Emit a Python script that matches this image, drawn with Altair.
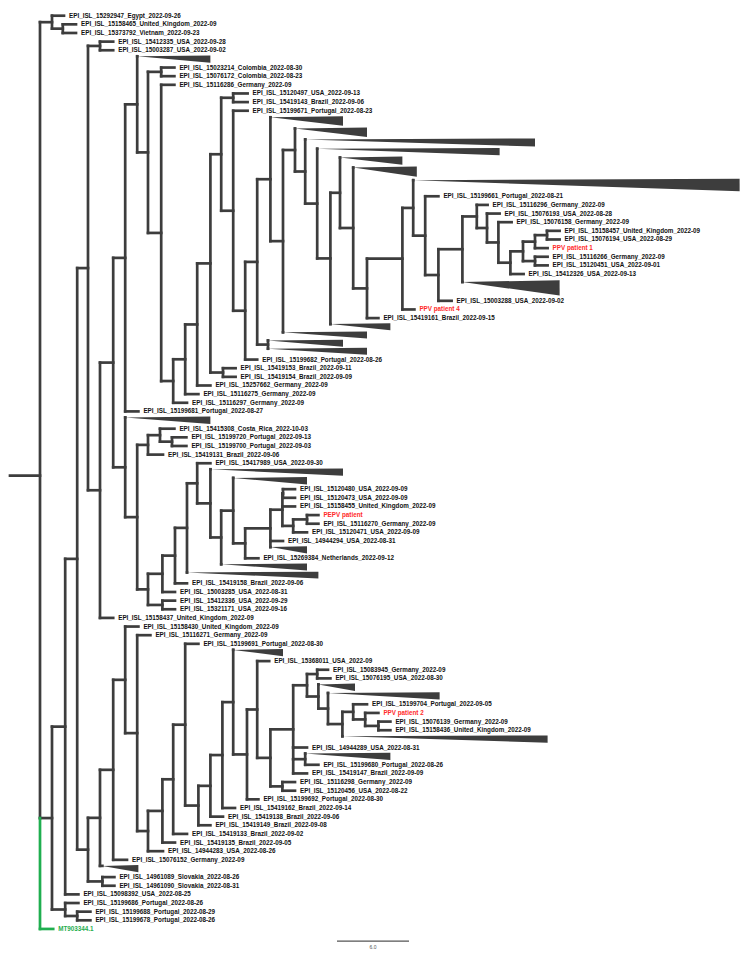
import altair as alt
import pandas as pd

# ---------------- tree data: (node, parent, distance from root) ----------------
BACKBONE = [
    ("root", None, 0.0),
    ("nE", "root", 1.0),
    ("nX", "root", 1.0),
    ("MT903344.1", "root", 1.1),
    ("EPI_ISL_15292947_Egypt_2022-09-26", "nE", 2.0),
    ("nUV", "nE", 1.9),
    ("EPI_ISL_15158465_United_Kingdom_2022-09", "nUV", 3.0),
    ("EPI_ISL_15373792_Vietnam_2022-09-23", "nUV", 3.0),
    ("n65", "nX", 2.1),
    ("nP", "nX", 2.1),
    ("EPI_ISL_15199686_Portugal_2022-08-26", "nP", 3.2),
    ("nP2", "nP", 3.1),
    ("EPI_ISL_15199688_Portugal_2022-08-29", "nP2", 4.2),
    ("EPI_ISL_15199678_Portugal_2022-08-26", "nP2", 4.2),
    ("n77", "n65", 3.1),
    ("EPI_ISL_15098392_USA_2022-08-25", "n65", 3.2),
    ("n88", "n77", 4.0),
    ("n88b", "n77", 4.0),
]

UPPER = [
    ("n100a", "n88", 5.0),
    ("n100", "n88", 5.0),
    ("EPI_ISL_15412335_USA_2022-09-28", "n100a", 6.1),
    ("EPI_ISL_15003287_USA_2022-09-02", "n100a", 6.1),
    ("n113", "n100", 6.1),
    ("EPI_ISL_15158437_United_Kingdom_2022-09", "n100", 6.1),
    ("n125", "n113", 7.1),
    ("n125b", "n113", 7.1),
    ("n137", "n125", 8.1),
    ("EPI_ISL_15199681_Portugal_2022-08-27", "n125", 8.2),
    ("t0", "n137", 8.1),
    ("n148", "n137", 9.0),
    ("n161a", "n148", 10.1),
    ("n161b", "n148", 10.1),
    ("EPI_ISL_15023214_Colombia_2022-08-30", "n161a", 11.2),
    ("EPI_ISL_15076172_Colombia_2022-08-23", "n161a", 11.2),
    ("EPI_ISL_15116286_Germany_2022-09", "n161b", 11.2),
    ("n173", "n161b", 11.1),
    ("n185", "n173", 12.1),
    ("EPI_ISL_15116297_Germany_2022-09", "n173", 12.25),
    ("n197", "n185", 13.1),
    ("EPI_ISL_15116275_Germany_2022-09", "n185", 13.2),
    ("n209", "n197", 14.2),
    ("EPI_ISL_15257662_Germany_2022-09", "n197", 14.2),
    ("n221", "n209", 15.1),
    ("n223", "n209", 15.25),
    ("EPI_ISL_15419153_Brazil_2022-09-11", "n223", 16.3),
    ("EPI_ISL_15419154_Brazil_2022-09-09", "n223", 16.3),
    ("n233a", "n221", 16.1),
    ("n233", "n221", 16.1),
    ("EPI_ISL_15120497_USA_2022-09-13", "n233a", 17.3),
    ("EPI_ISL_15419143_Brazil_2022-09-06", "n233a", 17.3),
    ("EPI_ISL_15199671_Portugal_2022-08-23", "n233", 17.3),
    ("n245", "n233", 17.1),
    ("n257", "n245", 18.1),
    ("EPI_ISL_15199682_Portugal_2022-08-26", "n245", 18.1),
    ("n270", "n257", 19.2),
    ("n268", "n257", 19.0),
]

STAIRCASE = [
    ("t1", "n270", 19.2),
    ("n283", "n270", 20.25),
    ("n295", "n283", 21.25),
    ("tb", "n283", 20.25),
    ("t2", "n295", 21.25),
    ("n305", "n295", 22.1),
    ("t3", "n305", 22.1),
    ("n317", "n305", 23.1),
    ("t4", "n317", 23.1),
    ("n330", "n317", 24.2),
    ("n340", "n330", 25.0),
    ("tc", "n330", 24.2),
    ("t5", "n340", 25.0),
    ("n353", "n340", 26.1),
    ("t6", "n353", 26.1),
    ("n367", "n353", 27.25),
    ("n402", "n367", 30.2),
    ("EPI_ISL_15419161_Brazil_2022-09-15", "n367", 28.2),
    ("n413", "n402", 31.1),
    ("PPV patient 4", "n402", 31.2),
    ("tbig", "n413", 31.1),
    ("n425", "n413", 32.1),
    ("EPI_ISL_15199661_Portugal_2022-08-21", "n425", 33.2),
    ("n438", "n425", 33.2),
    ("n462", "n438", 35.2),
    ("EPI_ISL_15003288_USA_2022-09-02", "n438", 34.3),
    ("n477", "n462", 36.4),
    ("t283", "n462", 35.2),
    ("td1", "n268", 19.0),
    ("td2", "n268", 19.0),
]

PPV1_CLADE = [
    ("EPI_ISL_15116296_Germany_2022-09", "n477", 37.3),
    ("n488", "n477", 37.25),
    ("EPI_ISL_15076193_USA_2022-08-28", "n488", 38.3),
    ("n498", "n488", 38.2),
    ("EPI_ISL_15076158_Germany_2022-09", "n498", 39.3),
    ("n510", "n498", 39.2),
    ("n523", "n510", 40.25),
    ("EPI_ISL_15412326_USA_2022-09-13", "n510", 40.3),
    ("n535", "n523", 41.25),
    ("n535b", "n523", 41.25),
    ("n547", "n535", 42.25),
    ("PPV patient 1", "n535", 42.3),
    ("EPI_ISL_15158457_United_Kingdom_2022-09", "n547", 43.3),
    ("EPI_ISL_15076194_USA_2022-08-29", "n547", 43.3),
    ("EPI_ISL_15116266_Germany_2022-09", "n535b", 42.3),
    ("EPI_ISL_15120451_USA_2022-09-01", "n535b", 42.3),
]

PEPV_CLADE = [
    ("t420", "n125b", 7.1),
    ("n137b", "n125b", 8.1),
    ("n148b", "n137b", 9.0),
    ("n148c", "n137b", 9.0),
    ("n160", "n148b", 10.0),
    ("EPI_ISL_15419131_Brazil_2022-09-06", "n148b", 10.25),
    ("EPI_ISL_15415308_Costa_Rica_2022-10-03", "n160", 11.2),
    ("n172", "n160", 11.0),
    ("EPI_ISL_15199720_Portugal_2022-09-13", "n172", 12.2),
    ("EPI_ISL_15199700_Portugal_2022-09-03", "n172", 12.2),
    ("n162", "n148c", 10.2),
    ("n162p", "n148c", 10.2),
    ("n175", "n162", 11.25),
    ("EPI_ISL_15003285_USA_2022-08-31", "n162", 11.25),
    ("EPI_ISL_15412336_USA_2022-09-29", "n162p", 11.25),
    ("EPI_ISL_15321171_USA_2022-09-16", "n162p", 11.25),
    ("n187", "n175", 12.25),
    ("EPI_ISL_15419158_Brazil_2022-09-06", "n175", 12.25),
    ("n197c", "n187", 13.1),
    ("tc187", "n187", 12.25),
    ("EPI_ISL_15417989_USA_2022-09-30", "n197c", 14.2),
    ("n210c", "n197c", 14.2),
    ("ta", "n210c", 14.2),
    ("n222c", "n210c", 15.1),
    ("n233c", "n222c", 16.1),
    ("tb2", "n222c", 15.1),
    ("tc2", "n233c", 16.1),
    ("n245c", "n233c", 17.1),
    ("n270c", "n245c", 19.2),
    ("EPI_ISL_15269384_Netherlands_2022-09-12", "n245c", 18.2),
    ("n282c", "n270c", 20.2),
    ("EPI_ISL_14944294_USA_2022-08-31", "n270c", 20.25),
    ("td", "n270c", 19.2),
    ("n283a", "n282c", 20.25),
    ("EPI_ISL_15158455_United_Kingdom_2022-09", "n282c", 21.25),
    ("n293", "n282c", 21.1),
    ("EPI_ISL_15120480_USA_2022-09-09", "n283a", 21.25),
    ("EPI_ISL_15120473_USA_2022-09-09", "n283a", 21.25),
    ("n307", "n293", 22.25),
    ("EPI_ISL_15120471_USA_2022-09-09", "n293", 22.25),
    ("PEPV patient", "n307", 23.2),
    ("EPI_ISL_15116270_Germany_2022-09", "n307", 23.2),
]

LOWER_CLADE = [
    ("n100b", "n88b", 5.0),
    ("n102", "n88b", 5.2),
    ("n113b", "n100b", 6.1),
    ("tsk", "n100b", 5.2),
    ("EPI_ISL_14961089_Slovakia_2022-08-26", "n102", 6.2),
    ("EPI_ISL_14961090_Slovakia_2022-08-31", "n102", 6.2),
    ("n125L", "n113b", 7.1),
    ("EPI_ISL_15076152_Germany_2022-09", "n113b", 7.25),
    ("EPI_ISL_15158430_United_Kingdom_2022-09", "n125L", 8.2),
    ("n137L", "n125L", 8.1),
    ("EPI_ISL_15116271_Germany_2022-09", "n137L", 9.2),
    ("n148L", "n137L", 9.0),
    ("n162L", "n148L", 10.2),
    ("EPI_ISL_14944283_USA_2022-08-26", "n148L", 10.25),
    ("n173L", "n162L", 11.1),
    ("EPI_ISL_15419135_Brazil_2022-09-05", "n162L", 11.25),
    ("n185L", "n173L", 12.1),
    ("EPI_ISL_15419133_Brazil_2022-09-02", "n173L", 12.25),
    ("EPI_ISL_15199691_Portugal_2022-08-30", "n185L", 13.2),
    ("n198L", "n185L", 13.2),
    ("n210L", "n198L", 14.2),
    ("EPI_ISL_15419149_Brazil_2022-09-08", "n198L", 14.2),
    ("n222L", "n210L", 15.2),
    ("EPI_ISL_15419138_Brazil_2022-09-06", "n210L", 15.25),
    ("n233L", "n222L", 16.1),
    ("EPI_ISL_15419162_Brazil_2022-09-14", "n222L", 16.25),
    ("t647", "n233L", 16.1),
    ("n245L", "n233L", 17.25),
    ("n257L", "n245L", 18.1),
    ("EPI_ISL_15199692_Portugal_2022-08-30", "n245L", 18.2),
    ("EPI_ISL_15368011_USA_2022-09", "n257L", 19.1),
    ("n270L", "n257L", 19.2),
    ("n293L", "n270L", 21.1),
    ("n282p", "n270L", 20.2),
    ("EPI_ISL_15116298_Germany_2022-09", "n282p", 21.25),
    ("EPI_ISL_15120456_USA_2022-08-22", "n282p", 21.25),
    ("n307L", "n293L", 22.25),
    ("EPI_ISL_14944289_USA_2022-08-31", "n293L", 22.25),
    ("n305t", "n293L", 22.1),
    ("EPI_ISL_15419147_Brazil_2022-09-09", "n293L", 22.25),
    ("t748", "n305t", 22.1),
    ("EPI_ISL_15199680_Portugal_2022-08-26", "n305t", 23.2),
    ("n317p", "n307L", 23.1),
    ("n318L", "n307L", 23.2),
    ("EPI_ISL_15083945_Germany_2022-09", "n317p", 24.0),
    ("EPI_ISL_15076195_USA_2022-08-30", "n317p", 24.2),
    ("t682", "n318L", 23.2),
    ("n328L", "n318L", 24.0),
    ("t690", "n328L", 24.0),
    ("n342L", "n328L", 25.2),
    ("n353L", "n342L", 26.1),
    ("tbig2", "n342L", 25.2),
    ("EPI_ISL_15199704_Portugal_2022-09-05", "n353L", 27.25),
    ("n365L", "n353L", 27.1),
    ("PPV patient 2", "n365L", 28.2),
    ("n378L", "n365L", 28.2),
    ("EPI_ISL_15076139_Germany_2022-09", "n378L", 29.2),
    ("EPI_ISL_15158436_United_Kingdom_2022-09", "n378L", 29.2),
]

# collapsed clades: name -> (deepest tip distance, rows occupied)
COLLAPSED = {
    "t0": (14.2, 1.0), "t1": (25.25, 1.3), "t2": (27.25, 1.3), "t3": (41.25, 1.1),
    "t4": (38.3, 1.0), "t5": (30.2, 1.1), "t6": (31.4, 1.4), "tbig": (58.3, 1.7),
    "t283": (43.3, 2.1), "tc": (29.2, 0.95), "tb": (27.25, 0.95),
    "td1": (25.25, 0.95), "td2": (27.25, 0.95),
    "t420": (14.2, 1.0), "ta": (25.25, 1.0), "tc2": (22.25, 1.0), "td": (22.25, 1.0),
    "tb2": (22.25, 0.95), "tc187": (23.2, 0.95),
    "t647": (20.25, 1.0), "t682": (26.25, 1.0), "t690": (33.3, 1.0),
    "tbig2": (42.3, 1.0), "t748": (29.2, 1.0), "tsk": (8.2, 1.0),
}

RED_TIPS = ["PPV patient 1", "PPV patient 2", "PPV patient 4", "PEPV patient"]
GREEN_TIPS = ["MT903344.1"]
ROOT_STUB = 2.5
SCALE_BAR = 6.0

# ---------------- layout (rectangular: node at midpoint of first and last child) ----------------
edges = BACKBONE + UPPER + STAIRCASE + PPV1_CLADE + PEPV_CLADE + LOWER_CLADE
depth, children = {}, {}
for name, par, d in edges:
    depth[name] = d
    if par is not None:
        children.setdefault(par, []).append(name)

ypos, tri_geom = {}, {}
cursor = [0.0]


def layout(n):
    if n in COLLAPSED:
        tip, s = COLLAPSED[n]
        c = cursor[0] - 0.5 + s / 2.0
        cursor[0] += s
        apex = c - 0.3 * s
        tri_geom[n] = (apex, c - 0.4 * s, c + 0.45 * s, tip)
        ypos[n] = apex
    elif n not in children:
        ypos[n] = cursor[0]
        cursor[0] += 1.0
    else:
        ys = [layout(ch) for ch in children[n]]
        ypos[n] = (ys[0] + ys[-1]) / 2.0
    return ypos[n]


layout("root")

GRAY = "#3d3d3d"
GREEN = "#1fae4f"
RED = "#ff2a2a"

segs = []
for n, chs in children.items():
    x = depth[n]
    for i, ch in enumerate(chs):
        col = GREEN if ch in GREEN_TIPS else GRAY
        segs.append(dict(x=x, x2=depth[ch], y=ypos[ch], y2=ypos[ch], c=col))
        if i > 0:
            segs.append(dict(x=x, x2=x, y=ypos[chs[i - 1]], y2=ypos[ch], c=col))
segs.append(dict(x=-ROOT_STUB, x2=0.0, y=ypos["root"], y2=ypos["root"], c=GRAY))
seg_df = pd.DataFrame(segs)

tri_rows = []
for n, (apex, top, bot, tip) in tri_geom.items():
    tri_rows.append(dict(id=n, x=depth[n], y=apex, y2=apex))
    tri_rows.append(dict(id=n, x=tip, y=top, y2=bot))
tri_df = pd.DataFrame(tri_rows)

labels = []
for n in depth:
    if n not in children and n not in COLLAPSED:
        col = RED if n in RED_TIPS else (GREEN if n in GREEN_TIPS else "#111111")
        labels.append(dict(x=depth[n], y=ypos[n], t=n, c=col))
lab_df = pd.DataFrame(labels)

# ---------------- scales ----------------
PX_PER_UNIT = 12.0
PX_PER_ROW = 8.64
W, H = 738, 938
x0 = -32.0 / PX_PER_UNIT
r0 = -7.7 / PX_PER_ROW
xs = alt.Scale(domain=[x0, x0 + W / PX_PER_UNIT], nice=False, zero=False)
ys = alt.Scale(domain=[r0, r0 + H / PX_PER_ROW], nice=False, zero=False, reverse=True)

bar_row = 107.1
bar_x = 24.75
bar_df = pd.DataFrame([dict(x=bar_x, x2=bar_x + SCALE_BAR, y=bar_row, t=f"{SCALE_BAR:.1f}",
                            xm=bar_x + SCALE_BAR / 2, yt=bar_row + 0.7)])

tri = alt.Chart(tri_df).mark_area(color=GRAY, orient="vertical", interpolate="linear").encode(
    x=alt.X("x:Q", scale=xs, axis=None),
    y=alt.Y("y:Q", scale=ys, axis=None, stack=None),
    y2="y2:Q",
    detail="id:N",
)

rules = alt.Chart(seg_df).mark_rule(strokeWidth=2.7, strokeCap="square").encode(
    x=alt.X("x:Q", scale=xs, axis=None),
    x2="x2:Q",
    y=alt.Y("y:Q", scale=ys, axis=None),
    y2="y2:Q",
    color=alt.Color("c:N", scale=None),
)

text = alt.Chart(lab_df).mark_text(
    align="left", baseline="middle", dx=5, font="Liberation Sans",
    fontSize=6.3, fontWeight="bold"
).encode(
    x=alt.X("x:Q", scale=xs, axis=None),
    y=alt.Y("y:Q", scale=ys, axis=None),
    text="t:N",
    color=alt.Color("c:N", scale=None),
)

bar = alt.Chart(bar_df).mark_rule(strokeWidth=1.3, color="#555555").encode(
    x=alt.X("x:Q", scale=xs, axis=None), x2="x2:Q",
    y=alt.Y("y:Q", scale=ys, axis=None),
)
bar_text = alt.Chart(bar_df).mark_text(
    fontSize=5, font="Liberation Sans", color="#555555", baseline="middle"
).encode(
    x=alt.X("xm:Q", scale=xs, axis=None),
    y=alt.Y("yt:Q", scale=ys, axis=None),
    text="t:N",
)

chart = alt.layer(tri, rules, text, bar, bar_text).properties(
    width=W, height=H, padding=0
).configure_view(stroke=None)

chart.save("out.html", embed_options={"renderer": "svg", "actions": False})
